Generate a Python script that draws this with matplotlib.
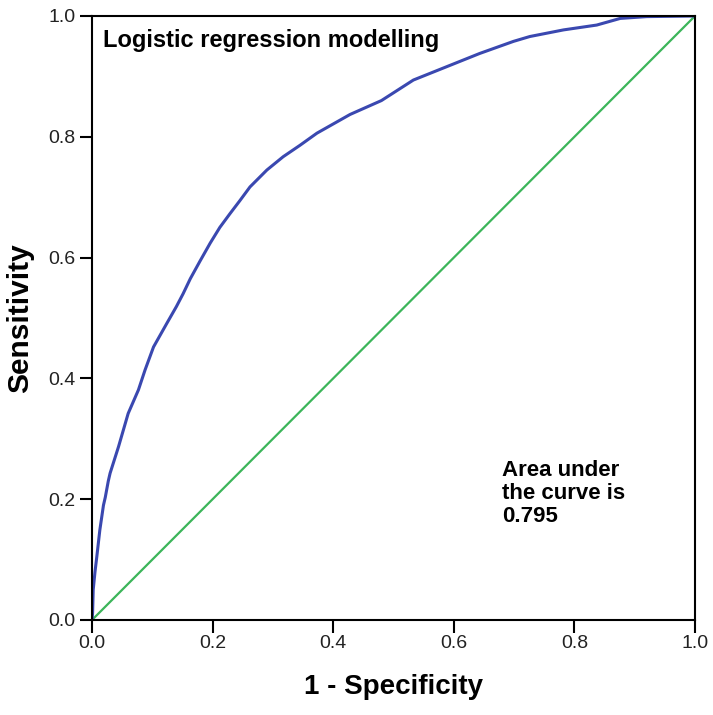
import matplotlib
matplotlib.use("Agg")
import matplotlib.pyplot as plt

plt.rcParams['font.family'] = ['Liberation Sans', 'DejaVu Sans']

# ROC curve points
fpr = [0.000, 0.001, 0.002, 0.005, 0.008, 0.013, 0.019, 0.022, 0.027, 0.030, 0.044,
       0.060, 0.077, 0.088, 0.102, 0.124, 0.140, 0.151, 0.163, 0.179, 0.196, 0.212,
       0.229, 0.245, 0.262, 0.290, 0.317, 0.345, 0.373, 0.428, 0.480, 0.533, 0.588,
       0.643, 0.699, 0.726, 0.782, 0.837, 0.876, 0.920, 1.000]
tpr = [0.000, 0.012, 0.050, 0.080, 0.105, 0.149, 0.190, 0.203, 0.230, 0.243, 0.287,
       0.342, 0.381, 0.414, 0.452, 0.491, 0.519, 0.540, 0.565, 0.594, 0.624, 0.650,
       0.673, 0.694, 0.717, 0.745, 0.767, 0.786, 0.806, 0.837, 0.860, 0.894, 0.916,
       0.938, 0.958, 0.966, 0.977, 0.985, 0.996, 0.999, 1.000]
ref_x = [0.0, 1.0]
ref_y = [0.0, 1.0]
ticks = [0.0, 0.2, 0.4, 0.6, 0.8, 1.0]
tick_labels = ['0.0', '0.2', '0.4', '0.6', '0.8', '1.0']

fig = plt.figure(figsize=(7.13, 7.15), dpi=100)
ax = fig.add_axes([92/713, 95/715, 603/713, 604/715])

ax.plot(ref_x, ref_y, color='#3cb55a', lw=1.6)
ax.plot(fpr, tpr, color='#3a48b0', lw=2.2)

ax.set_xlim(0, 1)
ax.set_ylim(0, 1)
ax.set_xticks(ticks)
ax.set_xticklabels(tick_labels)
ax.set_yticks(ticks)
ax.set_yticklabels(tick_labels)
ax.tick_params(direction='out', length=9, width=1.5, labelsize=14, colors='black',
               labelcolor='#222222')
ax.tick_params(axis='x', pad=2)
ax.tick_params(axis='y', pad=3)
for s in ax.spines.values():
    s.set_linewidth(1.5)

ax.set_xlabel('1 - Specificity', fontsize=20, fontweight='bold', labelpad=16)
ax.set_ylabel('Sensitivity', fontsize=21.5, fontweight='bold', labelpad=10)

ax.text(0.018, 0.9487, 'Logistic regression modelling', transform=ax.transAxes,
        fontsize=17, fontweight='bold', va='baseline', ha='left')
ax.text(0.680, 0.162, 'Area under\nthe curve is\n0.795', transform=ax.transAxes,
        fontsize=16, fontweight='bold', va='baseline', ha='left', linespacing=1.12)

fig.savefig('out.png', dpi=100)
